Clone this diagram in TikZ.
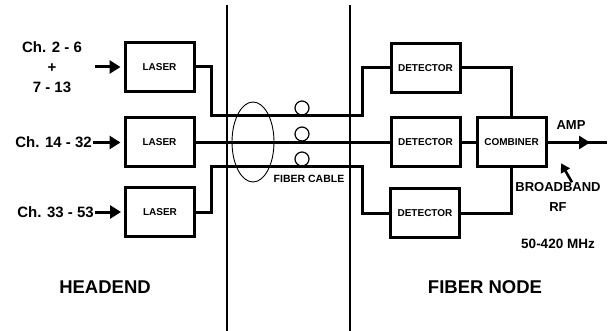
\documentclass[tikz,border=0pt]{standalone}
\usepackage{fontspec}
\setmainfont{Liberation Sans}
\usetikzlibrary{arrows.meta}

\begin{document}
\begin{tikzpicture}[x=1pt,y=-1pt]
        \tikzset{box/.style={draw, line width=3pt, minimum width=69pt, minimum height=49pt, inner sep=0pt, font=\bfseries\fontsize{10}{12}\selectfont},
        wire/.style={line width=3pt},
        inarrow/.style={line width=3pt, -{Triangle[length=11pt,width=13pt]}},
        label/.style={font=\bfseries\fontsize{15}{20}\selectfont, inner sep=1pt, align=center},
        big/.style={font=\bfseries\fontsize{18.5}{22}\selectfont}}
        \useasboundingbox (0,0) rectangle (610,331);

        \draw [line width=2.4pt] (227,5) -- (227,331);
        \draw [line width=2.4pt] (350,5) -- (350,331);

        \node [box] (laser1) at (159.5,67) {LASER};
        \node [box] (laser2) at (159.5,142.5) {LASER};
        \node [box] (laser3) at (160,212) {LASER};
        \node [box] (det1) at (425.5,68) {DETECTOR};
        \node [box] (det2) at (425.5,142.5) {DETECTOR};
        \node [box] (det3) at (425,213) {DETECTOR};
        \node [box] (comb) at (511.5,142.5) {COMBINER};

        \coordinate (t1) at (211,116);
        \coordinate (t2) at (362,116);
        \coordinate (b1) at (211,167);
        \coordinate (b2) at (362,167);
        \draw [wire] (laser1.east) -| (t1) -- (t2) |- (det1.west);
        \draw [wire] (laser2.east) -- (det2.west);
        \draw [wire] (laser3.east) -| (b1) -- (b2) |- (det3.west);
        \draw [wire] (det2.east) -- (comb.west);
        \draw [wire] (det1.east) -| (comb.north);
        \draw [wire] (det3.east) -| (comb.south);

        \draw [line width=0.9pt] (253,142) ellipse [x radius=21, y radius=40];
        \draw [line width=1.2pt] (302,108) circle [radius=7];
        \draw [line width=1.2pt] (302,134) circle [radius=7];
        \draw [line width=1.2pt] (302,159) circle [radius=7];
        \node [font=\bfseries\fontsize{10.5}{12}\selectfont] (cable) at (309,179) {FIBER CABLE};

        \node [label] (in1) at (52,67) {Ch. 2 - 6\\+\\7 - 13};
        \node [label, anchor=east] (in2) at (93,142.5) {Ch. 14 - 32};
        \node [label, anchor=east] (in3) at (95,212) {Ch. 33 - 53};
        \draw [inarrow, shorten >=3pt] ([xshift=12pt]in1.east) -- (laser1.west);
        \draw [inarrow, shorten >=3pt] (in2.east) -- (laser2.west);
        \draw [inarrow, shorten >=3pt] (in3.east) -- (laser3.west);

        \coordinate (amptip) at (590,142.5);
        \coordinate (ampend) at (607,142.5);
        \draw [wire] (comb.east) -- (ampend);
        \draw [inarrow] (comb.east) -- (amptip);
        \node [font=\bfseries\fontsize{13}{15}\selectfont] (amp) at (571,125) {AMP};

        \node [label, font=\bfseries\fontsize{13}{20}\selectfont] (bb) at (558,197) {BROADBAND\\RF};
        \draw [line width=2.6pt, -{Triangle[length=9pt,width=10pt]}] ([xshift=14pt,yshift=-1pt]bb.north) -- ++(-11,-19);
        \node [font=\bfseries\fontsize{13.5}{16}\selectfont] (mhz) at (558,244) {50-420 MHz};

        \node [big] (headend) at (105,287) {HEADEND};
        \node [big] (fnode) at (485,287) {FIBER NODE};
\end{tikzpicture}
\end{document}
